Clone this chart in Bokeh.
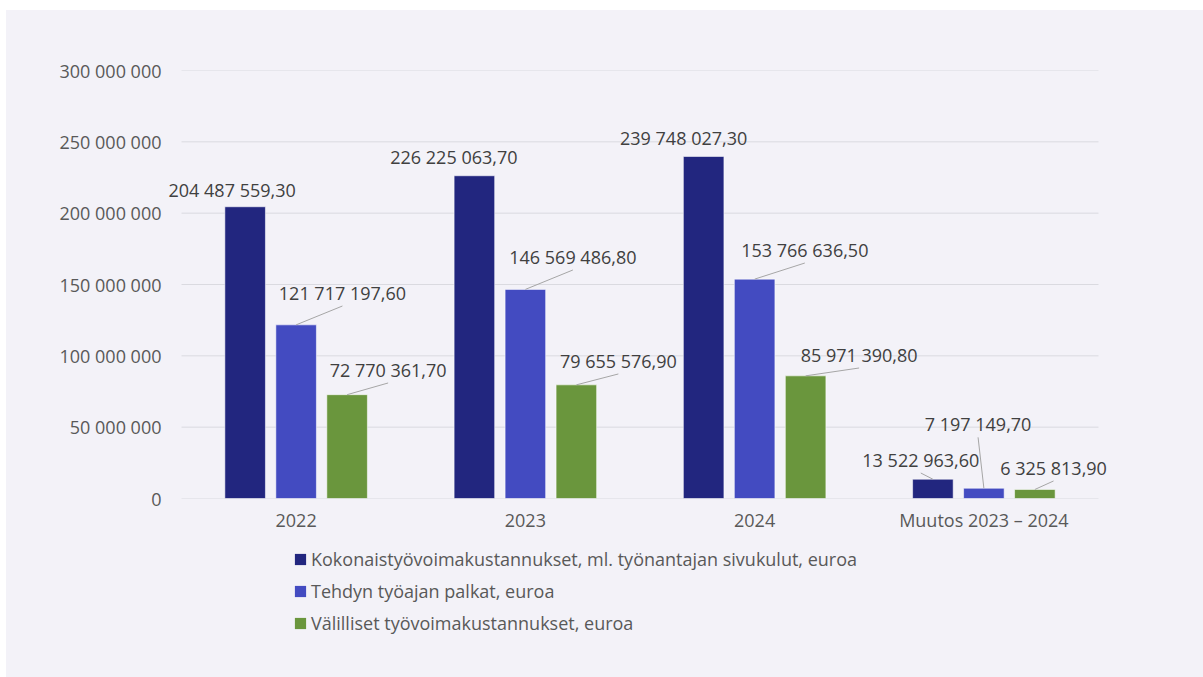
from bokeh.plotting import figure
from bokeh.layouts import column
from bokeh.models import (ColumnDataSource, FactorRange, Range1d, Label, Legend,
                          LegendItem, FixedTicker)
from bokeh.transform import dodge
from bokeh.embed import file_html
from bokeh.resources import INLINE

# ---------------- data ----------------
categories = ["2022", "2023", "2024", "Muutos 2023 – 2024"]
total_costs = [204487559.30, 226225063.70, 239748027.30, 13522963.60]
wages = [121717197.60, 146569486.80, 153766636.50, 7197149.70]
indirect_costs = [72770361.70, 79655576.90, 85971390.80, 6325813.90]
series_names = [
    "Kokonaistyövoimakustannukset, ml. työnantajan sivukulut, euroa",
    "Tehdyn työajan palkat, euroa",
    "Välilliset työvoimakustannukset, euroa",
]
y_ticks = [0, 50000000, 100000000, 150000000, 200000000, 250000000, 300000000]

# ---------------- style / layout ----------------
FONT_NAME = "Open Sans"
BG = "#f3f2f8"
TEXT = "#595959"
LABEL_TEXT = "#404040"
GRID = "#dadae0"
colors = ["#22267f", "#434bc1", "#6a963d"]
bar_offsets = [-0.2224, 0.0, 0.2224]
bar_width = 0.177

W = 1197
H_MAIN, H_LEG = 530, 137
CAT_PX = 229.25                      # px per category
PAD_PX = 20                          # extra frame room so edge labels are not clipped
BL, BR, BT = 175 - PAD_PX, 105 - PAD_PX, 60
FRAME_H = 428
BB = H_MAIN - BT - FRAME_H
px_per_cat = CAT_PX
px_per_unit = FRAME_H / y_ticks[-1]

# data-label placement (screen px from bar top centre)
label_dx = [[-13, -20.5, -20, -12.1], [46.3, 47.5, 50.2, -5.8], [41, 42, 53.5, 18.7]]
label_dy = [[16.8, 18.45, 18.8, 19.2], [31.85, 32.4, 29.1, 63.9], [24.7, 23.9, 20.85, 21.5]]
show_leader = [[False, False, False, True], [True] * 4, [True] * 4]
LEADER_GAP = 13


def fmt_label(v):
    return f"{v:,.2f}".replace(",", " ").replace(".", ",")


def fmt_tick(v):
    return f"{v:,.0f}".replace(",", " ")


x_range = FactorRange(*categories, range_padding=PAD_PX / CAT_PX,
                      range_padding_units="absolute")
p = figure(x_range=x_range, y_range=Range1d(0, y_ticks[-1]),
           width=W, height=H_MAIN, output_backend="svg", toolbar_location=None,
           min_border_left=BL, min_border_right=BR, min_border_top=BT,
           min_border_bottom=BB)
p.background_fill_alpha = 0
p.border_fill_alpha = 0
p.outline_line_color = None

# horizontal gridlines spanning the category area only
p.segment(x0=[[categories[0], -0.5]] * len(y_ticks), y0=y_ticks,
          x1=[[categories[-1], 0.5]] * len(y_ticks), y1=y_ticks,
          line_color=GRID, line_width=1)

src = ColumnDataSource(dict(cat=categories, s0=total_costs, s1=wages, s2=indirect_costs))
series = [total_costs, wages, indirect_costs]
for i, key in enumerate(["s0", "s1", "s2"]):
    p.vbar(x=dodge("cat", bar_offsets[i], range=p.x_range), top=key, width=bar_width,
           source=src, fill_color=colors[i], line_color="white", line_alpha=0.55,
           line_width=1)

# leader lines and labels (Label x uses the factor range's synthetic coordinate: factor j -> j + 0.5)
sx0, sy0, sx1, sy1 = [], [], [], []
for i, vals in enumerate(series):
    for j, v in enumerate(vals):
        p.add_layout(Label(x=j + 0.5 + bar_offsets[i], y=v, text=fmt_label(v),
                           x_offset=label_dx[i][j], y_offset=label_dy[i][j],
                           text_align="center", text_baseline="middle",
                           text_font=FONT_NAME, text_font_size="18px",
                           text_color=LABEL_TEXT))
        if show_leader[i][j]:
            sx0.append([categories[j], bar_offsets[i]])
            sy0.append(v)
            sx1.append([categories[j], bar_offsets[i] + label_dx[i][j] / px_per_cat])
            sy1.append(v + (label_dy[i][j] - LEADER_GAP) / px_per_unit)

p.segment(x0=sx0, y0=sy0, x1=sx1, y1=sy1, line_color="#a6a6a6", line_width=1)

# axes
p.xgrid.grid_line_color = None
p.ygrid.grid_line_color = None
p.yaxis.ticker = FixedTicker(ticks=y_ticks)
p.yaxis.major_label_overrides = {t: fmt_tick(t) for t in y_ticks}
for ax in (p.xaxis[0], p.yaxis[0]):
    ax.axis_line_color = None
    ax.major_tick_line_color = None
    ax.minor_tick_line_color = None
    ax.major_tick_out = 0
    ax.major_tick_in = 0
    ax.major_label_text_font = FONT_NAME
    ax.major_label_text_font_size = "18px"
    ax.major_label_text_color = TEXT
p.yaxis.major_label_standoff = 0
p.xaxis.major_label_standoff = 9

# legend panel (separate figure below the chart, same frame borders)
pl = figure(width=W, height=H_LEG, output_backend="svg", toolbar_location=None,
            x_range=Range1d(0, 1), y_range=Range1d(0, 1), x_axis_type=None,
            y_axis_type=None, min_border_left=BL, min_border_right=BR,
            min_border_top=0, min_border_bottom=0)
pl.background_fill_alpha = 0
pl.border_fill_alpha = 0
pl.outline_line_color = None
pl.grid.grid_line_color = None
# zero-size swatches that only feed the legend (nothing visible in the panel itself)
leg_renderers = [pl.vbar(x=[-5], top=[-5], bottom=[-5], width=0, fill_color=colors[i],
                         line_color=None)
                 for i in range(3)]
legend = Legend(items=[LegendItem(label=series_names[i], renderers=[leg_renderers[i]])
                       for i in range(3)],
                location=(293 - 6 - BL, 42), orientation="vertical", glyph_width=14,
                glyph_height=14, label_standoff=4, spacing=8, padding=0, margin=0,
                border_line_color=None, background_fill_alpha=0, label_text_font=FONT_NAME,
                label_text_font_size="18px", label_text_color=TEXT, label_height=24)
pl.add_layout(legend)

layout = column(p, pl, spacing=0, margin=(10, 0, 0, 6),
                styles={"background-color": BG})
open("out.html", "w").write(file_html(layout, INLINE))
